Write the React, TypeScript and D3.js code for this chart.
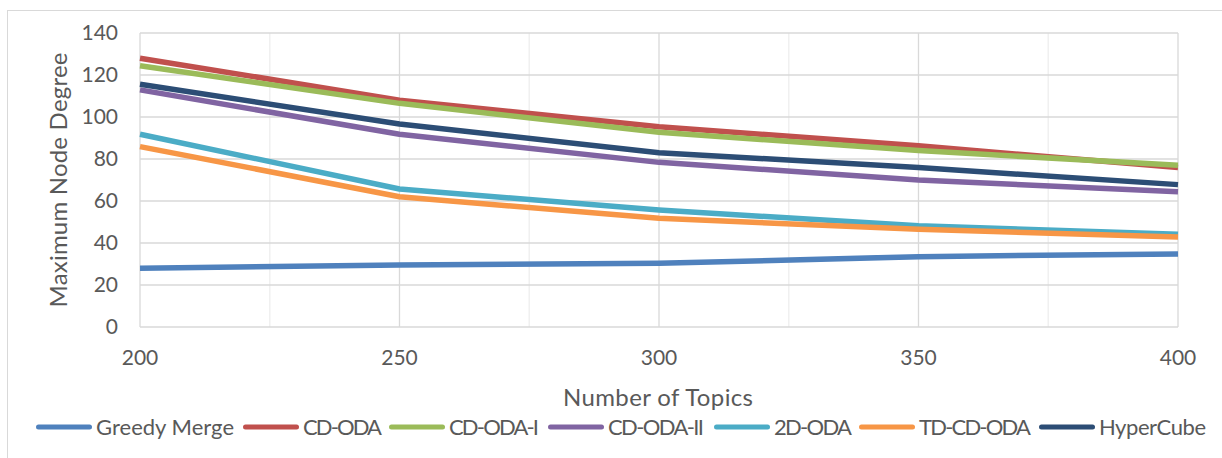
import React from "react";
import * as d3 from "d3";

const topics = [200, 250, 300, 350, 400];
const seriesNames = ["Greedy Merge", "CD-ODA", "CD-ODA-I", "CD-ODA-II", "2D-ODA", "TD-CD-ODA", "HyperCube"];
const greedyMerge = [28, 29.5, 30.3, 33.5, 34.8];
const cdOda = [128, 108, 95.4, 86.3, 75.9];
const cdOdaI = [124.4, 106.5, 92.7, 84, 77];
const cdOdaII = [112.9, 91.8, 78.4, 70, 64.4];
const twoDOda = [91.8, 65.7, 55.7, 48.2, 44.2];
const tdCdOda = [85.9, 62, 51.8, 46.5, 42.8];
const hyperCube = [115.6, 96.7, 83, 75.9, 67.8];
const seriesValues = [greedyMerge, cdOda, cdOdaI, cdOdaII, twoDOda, tdCdOda, hyperCube];
const colors = ["#4f81bd", "#c0504d", "#9bbb59", "#8064a2", "#4bacc6", "#f79646", "#2c4d75"];
const yTicks = [0, 20, 40, 60, 80, 100, 120, 140];
const xMinorTicks = [225, 275, 325, 375];
const legendX = [36, 243, 389, 548, 714, 859, 1039];
const legendTextW = [138, 79, 90, 96, 78, 112, 107];

const W = 1222;
const H = 458;
const font = "Lato, 'Open Sans', sans-serif";
const textColor = "#595959";

export default function App() {
  const x = d3.scaleLinear().domain([200, 400]).range([140, 1178]);
  const y = d3.scaleLinear().domain([0, 140]).range([327, 33]);
  const line = d3
    .line<number>()
    .x((_, i) => x(topics[i]))
    .y((d) => y(d));

  return (
    <svg
      width={W}
      height={H}
      style={{ position: "absolute", left: 0, top: 0, background: "#fff" }}
      fontFamily={font}
    >
      <rect x={7.5} y={10.5} width={1240} height={470} fill="#fff" stroke="#d9d9d9" strokeWidth={1} />
      {xMinorTicks.map((t) => (
        <line key={"m" + t} x1={x(t)} x2={x(t)} y1={y(0)} y2={y(140)} stroke="#f0f0f0" strokeWidth={1.5} />
      ))}
      {yTicks.map((t) => (
        <line key={"h" + t} x1={x(200)} x2={x(400)} y1={y(t)} y2={y(t)} stroke="#d9d9d9" strokeWidth={1.3} />
      ))}
      {topics.map((t) => (
        <line key={"v" + t} x1={x(t)} x2={x(t)} y1={y(0)} y2={y(140)} stroke="#d9d9d9" strokeWidth={1.3} />
      ))}
      {seriesValues.map((vals, i) => (
        <path key={seriesNames[i]} d={line(vals) || ""} fill="none" stroke={colors[i]} strokeWidth={5.5} strokeLinejoin="round" />
      ))}
      {yTicks.map((t) => (
        <text key={"yl" + t} x={118} y={y(t)} dy="0.35em" textAnchor="end" fontSize={21} fill={textColor}>
          {t}
        </text>
      ))}
      {topics.map((t) => (
        <text key={"xl" + t} x={x(t)} y={358} dy="0.35em" textAnchor="middle" fontSize={21} fill={textColor}>
          {t}
        </text>
      ))}
      <text
        transform={`translate(59,${y(70)}) rotate(-90)`}
        textAnchor="middle"
        dy="0.35em"
        fontSize={24}
        textLength={255}
        fill={textColor}
      >
        Maximum Node Degree
      </text>
      <text x={658} y={398} dy="0.35em" textAnchor="middle" fontSize={24} textLength={190} fill={textColor}>
        Number of Topics
      </text>
      {seriesNames.map((n, i) => (
        <g key={"lg" + n}>
          <line x1={legendX[i] + 2.5} x2={legendX[i] + 53.5} y1={427} y2={427} stroke={colors[i]} strokeWidth={5} strokeLinecap="round" />
          <text x={legendX[i] + 60} y={427} dy="0.35em" fontSize={22} textLength={legendTextW[i]} fill={textColor}>
            {n}
          </text>
        </g>
      ))}
    </svg>
  );
}
